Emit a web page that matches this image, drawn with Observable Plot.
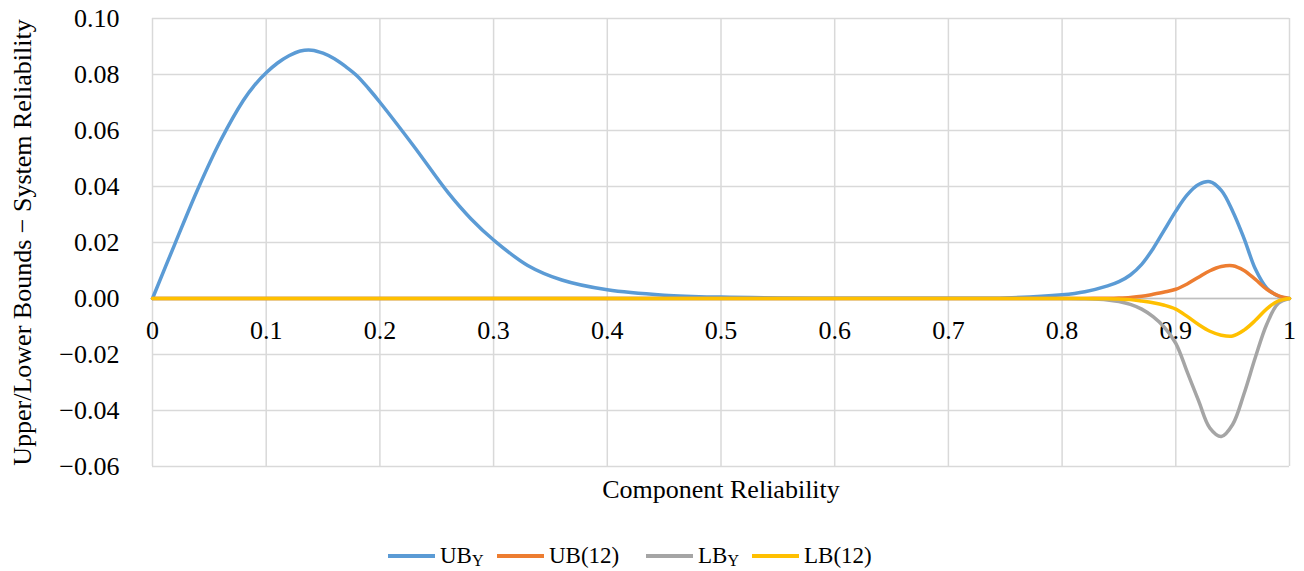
<!DOCTYPE html>
<html>
<head>
<meta charset="utf-8">
<script src="https://cdn.jsdelivr.net/npm/d3@7"></script>
<script src="https://cdn.jsdelivr.net/npm/@observablehq/plot@0.6"></script>
<style>
  html, body { margin: 0; padding: 0; background: #fff; }
  #chart { width: 1304px; height: 571px; position: relative; font-family: "Liberation Serif", "Times New Roman", serif; }
  #legend { position: absolute; left: 0; top: 536px; height: 40px; display: flex; align-items: center; font-size: 23px; color: #000; }
  .item { display: flex; align-items: center; }
  .sw { width: 47px; height: 4px; margin-right: 5px; }
  .sub { font-size: 16px; position: relative; top: 3px; }
</style>
</head>
<body>
<div id="chart"></div>
<script>
// ---- data ----
const reliability = [0, 0.02, 0.04, 0.06, 0.08, 0.09, 0.1, 0.11, 0.12, 0.13, 0.14, 0.15, 0.16, 0.17, 0.18, 0.19, 0.2, 0.23, 0.26, 0.28, 0.3, 0.33, 0.36, 0.4, 0.45, 0.5, 0.6, 0.7, 0.75, 0.8, 0.82, 0.84, 0.85, 0.86, 0.87, 0.88, 0.89, 0.9, 0.91, 0.92, 0.93, 0.94, 0.95, 0.96, 0.97, 0.98, 0.99, 1];
const ubY   = [0, 0.0198, 0.0392, 0.0565, 0.0708, 0.0763, 0.0806, 0.0841, 0.0867, 0.0884, 0.0887, 0.0876, 0.0856, 0.0828, 0.0795, 0.0750, 0.0701, 0.0543, 0.0378, 0.0285, 0.0209, 0.0118, 0.0066, 0.0031, 0.0012, 0.0005, 0.0001, 0.0001, 0.0002, 0.0013, 0.0024, 0.0045, 0.0060, 0.0084, 0.0122, 0.0178, 0.0245, 0.0312, 0.0370, 0.0407, 0.0417, 0.0386, 0.0312, 0.0215, 0.0105, 0.0037, 0.0009, 0];
const ub12  = [0, 0, 0, 0, 0, 0, 0, 0, 0, 0, 0, 0, 0, 0, 0, 0, 0, 0, 0, 0, 0, 0, 0, 0, 0, 0, 0, 0, 0, 0, 0.00003, 0.0001, 0.0002, 0.0004, 0.0008, 0.0015, 0.0023, 0.0033, 0.0052, 0.0076, 0.0099, 0.0114, 0.0117, 0.0100, 0.0068, 0.0033, 0.0010, 0];
const lbY   = [0, 0, 0, 0, 0, 0, 0, 0, 0, 0, 0, 0, 0, 0, 0, 0, 0, 0, 0, 0, 0, 0, 0, 0, 0, 0, 0, 0, 0, 0, -0.0001, -0.0005, -0.0011, -0.0021, -0.0038, -0.0065, -0.0103, -0.0160, -0.0262, -0.0365, -0.0463, -0.0493, -0.0450, -0.0340, -0.0210, -0.0092, -0.0018, 0];
const lb12  = [0, 0, 0, 0, 0, 0, 0, 0, 0, 0, 0, 0, 0, 0, 0, 0, 0, 0, 0, 0, 0, 0, 0, 0, 0, 0, 0, 0, 0, 0, -0.00003, -0.0001, -0.0002, -0.0004, -0.0009, -0.0015, -0.0024, -0.0038, -0.0064, -0.0093, -0.0117, -0.0131, -0.0134, -0.0113, -0.0078, -0.0037, -0.0009, 0];

const seriesNames  = ["UBY", "UB(12)", "LBY", "LB(12)"];
const seriesValues = [ubY, ub12, lbY, lb12];
const seriesColors = ["#5b9bd5", "#ed7d31", "#a5a5a5", "#ffc000"];

const xTicks = [0, 0.1, 0.2, 0.3, 0.4, 0.5, 0.6, 0.7, 0.8, 0.9, 1];
const xTickLabels = ["0", "0.1", "0.2", "0.3", "0.4", "0.5", "0.6", "0.7", "0.8", "0.9", "1"];
const yTicks = [-0.06, -0.04, -0.02, 0, 0.02, 0.04, 0.06, 0.08, 0.10];

const xTitle = "Component Reliability";
const yTitle = "Upper/Lower Bounds − System Reliability";

// ---- build table ----
const rows = [];
seriesNames.forEach((name, s) => {
  reliability.forEach((r, i) => rows.push({series: name, x: r, y: seriesValues[s][i]}));
});

const tickSize = 26;
const titleSize = 26;

const chart = Plot.plot({
  width: 1304,
  height: 520,
  marginTop: 18,
  marginBottom: 54,
  marginLeft: 152,
  marginRight: 15,
  style: {fontFamily: "'Liberation Serif', 'Times New Roman', serif", fontSize: tickSize + "px", background: "#fff", color: "#000"},
  x: {domain: [0, 1], axis: null},
  y: {domain: [-0.06, 0.10], axis: null},
  color: {domain: seriesNames, range: seriesColors},
  marks: [
    Plot.ruleX(xTicks, {x: d => d, stroke: "#d9d9d9", strokeWidth: 1.5}),
    Plot.ruleY(yTicks, {y: d => d, stroke: "#d9d9d9", strokeWidth: 1.5}),
    Plot.ruleY([0], {stroke: "#bfbfbf", strokeWidth: 1.5}),
    Plot.axisY({ticks: yTicks, tickFormat: d3.format(".2f"), tickSize: 0, tickPadding: 33, label: null, fill: "#000", fontSize: tickSize}),
    Plot.text(xTicks, {x: d => d, y: 0, text: (d, i) => xTickLabels[i], dy: 32, fill: "#000", fontSize: tickSize, lineAnchor: "middle"}),
    Plot.text([xTitle], {frameAnchor: "bottom", text: d => d, dy: 23, fill: "#000", fontSize: titleSize, lineAnchor: "middle", textAnchor: "middle"}),
    Plot.text([yTitle], {frameAnchor: "left", text: d => d, rotate: -90, dx: -130, fill: "#000", fontSize: titleSize, lineAnchor: "middle", textAnchor: "middle"}),
    Plot.line(rows, {x: "x", y: "y", z: "series", stroke: "series", strokeWidth: 3.5, curve: "catmull-rom"})
  ]
});

const root = document.getElementById("chart");
root.appendChild(chart);

// ---- legend ----
const legend = document.createElement("div");
legend.id = "legend";
const slotWidths = [109, 149, 106, 130];
legend.style.left = "388px";
seriesNames.forEach((name, i) => {
  const item = document.createElement("div");
  item.className = "item";
  item.style.width = slotWidths[i] + "px";
  const sw = document.createElement("div");
  sw.className = "sw";
  sw.style.background = seriesColors[i];
  item.appendChild(sw);
  const label = document.createElement("span");
  if (name.endsWith("Y")) {
    label.innerHTML = name.slice(0, -1) + '<span class="sub">Y</span>';
  } else {
    label.textContent = name;
  }
  item.appendChild(label);
  legend.appendChild(item);
});
root.appendChild(legend);
</script>
</body>
</html>
